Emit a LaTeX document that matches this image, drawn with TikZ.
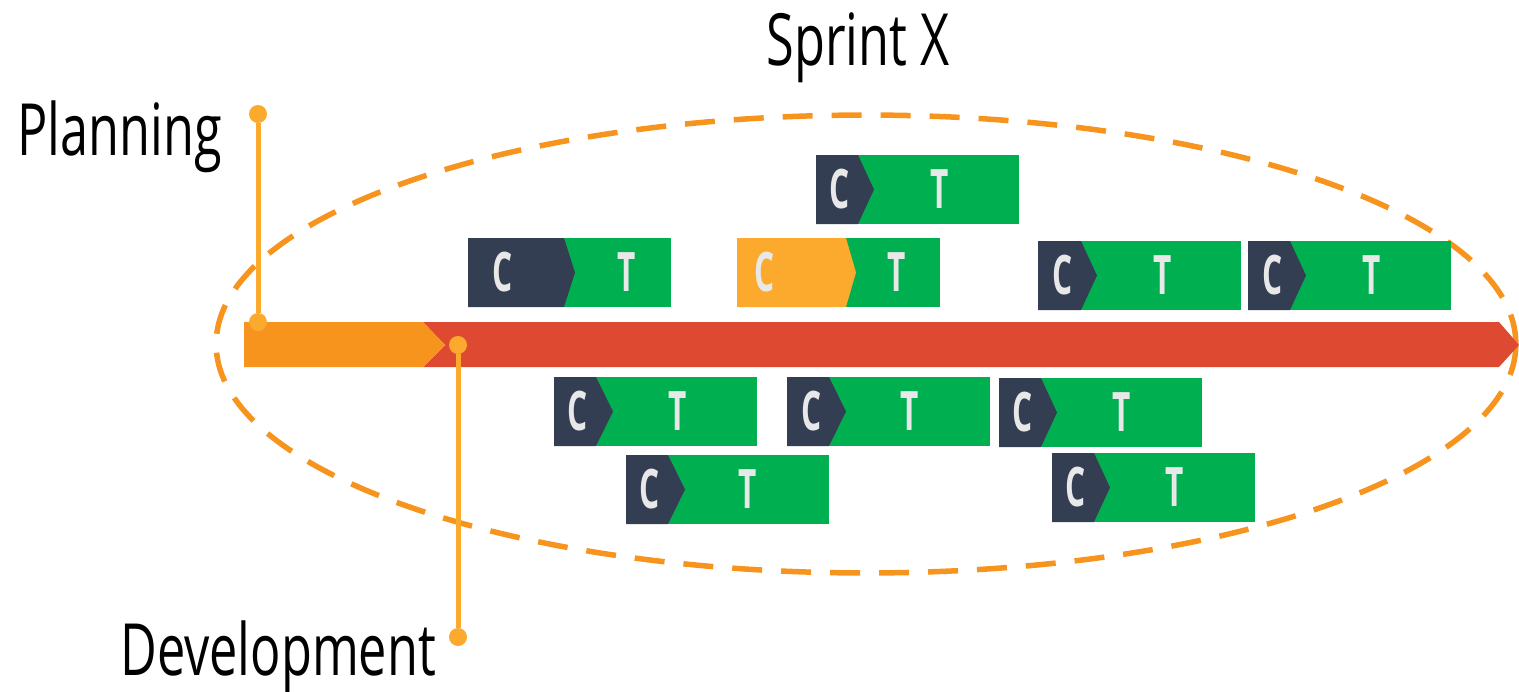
\documentclass[tikz,border=0pt]{standalone}
\usepackage{fontspec}
\usepackage{tikz}
\newfontfamily\condfont{Open Sans}[FakeStretch=0.7]
\newfontfamily\ctfont{Open Sans}[FakeStretch=0.58]

\definecolor{barorange}{HTML}{F7941D}
\definecolor{barred}{HTML}{DE4A31}
\definecolor{pinorange}{HTML}{FBAA2E}
\definecolor{cdark}{HTML}{343E52}
\definecolor{corange}{HTML}{FBAA2E}
\definecolor{tgreen}{HTML}{00AF50}
\definecolor{letter}{HTML}{E8E8E8}

\tikzset{
  pindot/.style={circle, fill=pinorange, inner sep=0pt, minimum size=0.36cm},
  pinline/.style={draw=pinorange, line width=0.1cm},
  bigtext/.style={font=\condfont\fontsize{41}{48}\selectfont, inner sep=0pt},
  ctlbl/.style={font=\ctfont\bfseries\fontsize{31}{38}\selectfont, text=letter, inner sep=0pt}
}

% name, x, y, C width, chevron depth, C colour, C label x, T label x
\newcommand{\ctblock}[8]{%
  \fill[tgreen] (#2,#3) rectangle ({#2+203},{#3+69});
  \fill[#6] (#2,#3) -- ({#2+#4},#3) -- ({#2+#4+#5},{#3+34.5})
     -- ({#2+#4},{#3+69}) -- (#2,{#3+69}) -- cycle;
  \node[ctlbl] (#1c) at (#7,{#3+34.5}) {C};
  \node[ctlbl] (#1t) at (#8,{#3+34.5}) {T};
}

\begin{document}
\begin{tikzpicture}[x=0.02cm, y=-0.02cm]
%\draw [help lines] (0,0) grid (1519,691);
\useasboundingbox (0,0) rectangle (1519,691);

% sprint
\draw[barorange, line width=0.11cm, dash pattern=on 0.6cm off 0.38cm]
  (866,344) circle [x radius=13cm, y radius=4.58cm];

% timeline
\fill[barred] (423,322) -- (1499,322) -- (1519,345) -- (1499,367)
  -- (423,367) -- (445,345) -- cycle;
\fill[barorange] (244,322) -- (423,322) -- (445,345) -- (423,367)
  -- (244,367) -- cycle;

\node[bigtext, anchor=base] (title) at (858,65) {Sprint X};
\node[bigtext, anchor=base west] (plan) at (17,155) {Planning};
\node[bigtext, anchor=base west] (dev) at (120,675) {Development};

\node[pindot] (P0) at (258,114) {};
\node[pindot] (P1) at (258,322) {};
\node[pindot] (P2) at (458,345) {};
\node[pindot] (P3) at (458,637) {};

% pins
\draw[pinline] (P0) -- (P1);
\draw[pinline] (P2) -- (P3);

% above the bar
\ctblock{B1}{468}{238}{96}{11}{cdark}{503}{627}
\ctblock{B2}{816}{155}{42}{16}{cdark}{840}{940}
\ctblock{B3}{737}{238}{109}{10}{corange}{765}{897}
\ctblock{B4}{1038}{241}{43}{16}{cdark}{1063}{1163}
\ctblock{B5}{1248}{241}{42}{16}{cdark}{1273}{1372}

% below the bar
\ctblock{B6}{554}{377}{42}{17}{cdark}{578}{678}
\ctblock{B7}{787}{377}{42}{17}{cdark}{812}{910}
\ctblock{B8}{999}{378}{42}{16}{cdark}{1023}{1122}
\ctblock{B9}{626}{455}{42}{17}{cdark}{650}{748}
\ctblock{B10}{1052}{453}{42}{16}{cdark}{1076}{1175}

\end{tikzpicture}
\end{document}
